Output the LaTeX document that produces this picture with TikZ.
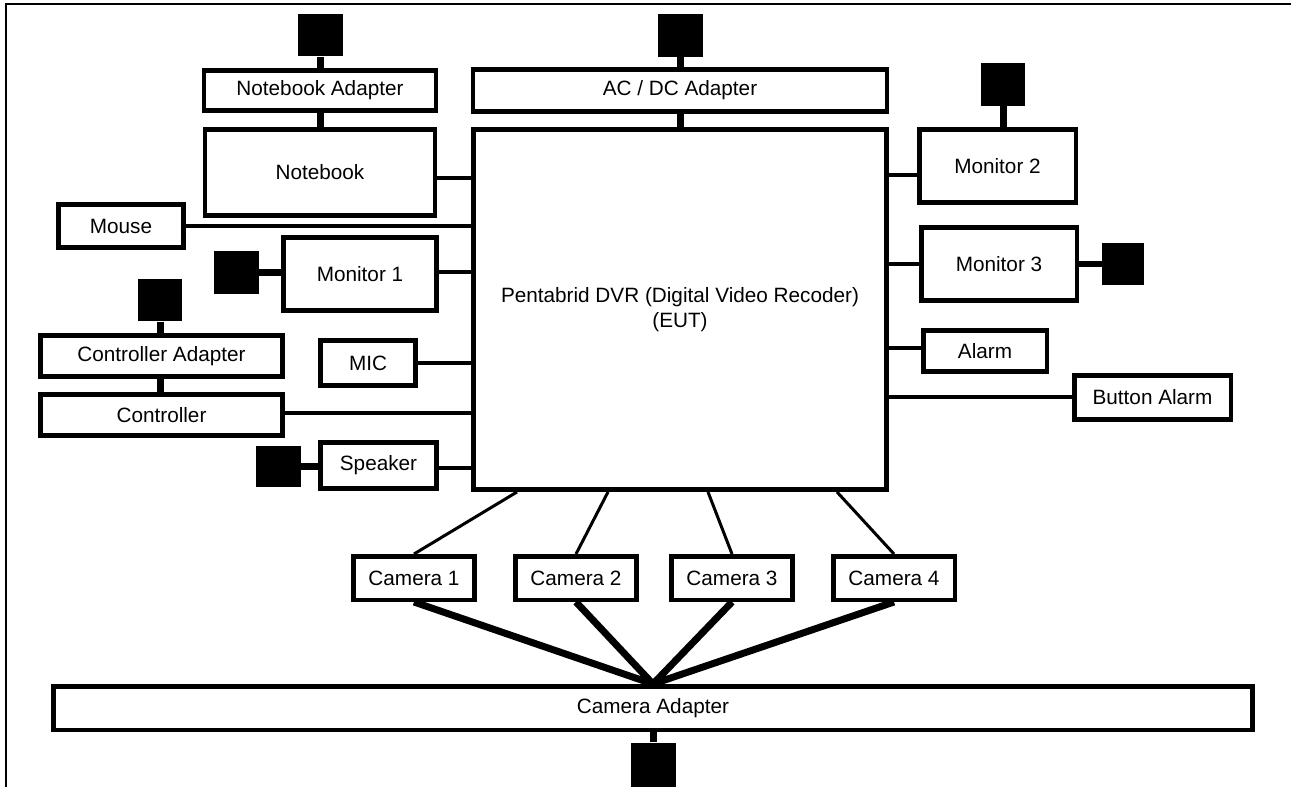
\documentclass[tikz,border=0pt]{standalone}
\usepackage{fontspec}
\setmainfont{Liberation Sans}
\begin{document}
\begin{tikzpicture}[x=0.02cm, y=-0.02cm,
  box/.style={draw, line width=0.09cm, fill=white, inner sep=0pt, align=center,
    font=\fontsize{11.8}{14.2}\selectfont},
  plug/.style={fill=black, inner sep=0pt, minimum width=0.9cm, minimum height=0.85cm},
  cam/.style={box, minimum width=2.43cm, minimum height=0.87cm},
  link/.style={line width=0.09cm},
  stem/.style={line width=0.14cm},
  camlink/.style={line width=0.06cm},
  feed/.style={line width=0.14cm}]
  \useasboundingbox (0,0) rectangle (1291,787);
  \draw[line width=0.04cm] (6,787) -- (6,4) -- (1291,4);

  % main unit and its power
  \node[box, minimum width=8.27cm, minimum height=7.21cm] (dvr) at (680,309.5)
    {Pentabrid DVR (Digital Video Recoder)\\(EUT)};
  \node[box, minimum width=8.29cm, minimum height=0.85cm] (acdc) at (680,90.5) {AC / DC Adapter};
  \node[plug] (acdcplug) at (680,35.5) {};
  \draw[stem] (acdcplug) -- (acdc);
  \draw[stem] (acdc) -- (dvr);

  % left side
  \node[plug] (nbplug) at (320,35) {};
  \node[box, minimum width=4.65cm, minimum height=0.81cm] (nbadapter) at (320,90.5) {Notebook Adapter};
  \node[box, minimum width=4.61cm, minimum height=1.73cm] (notebook) at (320,172.5) {Notebook};
  \draw[stem] (nbplug) -- (nbadapter);
  \draw[stem] (nbadapter) -- (notebook);
  \draw[link] (notebook.east |- 0,178) -- (dvr.west |- 0,178);

  \node[box, minimum width=2.51cm, minimum height=0.87cm] (mouse) at (121,226) {Mouse};
  \draw[link] (mouse.east) -- (mouse.east -| dvr.west);

  \node[box, minimum width=3.07cm, minimum height=1.47cm] (mon1) at (360,274) {Monitor 1};
  \node[plug] (m1plug) at (236.5,272.5) {};
  \draw[stem] (m1plug) -- (m1plug -| mon1.west);
  \draw[link] (mon1.east |- 0,272) -- (dvr.west |- 0,272);

  \node[plug] (ctrlplug) at (160,300) {};
  \node[box, minimum width=4.85cm, minimum height=0.83cm] (ctrladapter) at (161.5,356) {Controller Adapter};
  \node[box, minimum width=4.85cm, minimum height=0.83cm] (controller) at (161.5,415) {Controller};
  \draw[stem] (ctrlplug) -- (ctrlplug |- ctrladapter.north);
  \draw[stem] (ctrladapter.south -| ctrlplug) -- (controller.north -| ctrlplug);
  \draw[link] (controller.east |- 0,413) -- (dvr.west |- 0,413);

  \node[box, minimum width=1.91cm, minimum height=0.91cm] (mic) at (368,363) {MIC};
  \draw[link] (mic.east) -- (mic.east -| dvr.west);

  \node[box, minimum width=2.33cm, minimum height=0.93cm] (speaker) at (378.5,465.5) {Speaker};
  \node[plug, minimum height=0.82cm] (spkplug) at (278.5,466.5) {};
  \draw[stem] (spkplug) -- (spkplug -| speaker.west);
  \draw[link] (speaker.east |- 0,468) -- (dvr.west |- 0,468);

  % right side
  \node[box, minimum width=3.13cm, minimum height=1.47cm] (mon2) at (997.5,166) {Monitor 2};
  \node[plug, minimum width=0.88cm] (m2plug) at (1003,84.5) {};
  \draw[stem] (m2plug) -- (m2plug |- mon2.north);
  \draw[link] (dvr.east |- 0,175) -- (mon2.west |- 0,175);

  \node[box, minimum width=3.11cm, minimum height=1.47cm] (mon3) at (999,264) {Monitor 3};
  \node[plug, minimum width=0.84cm] (m3plug) at (1123,264) {};
  \draw[stem] (mon3.east) -- (m3plug);
  \draw[link] (dvr.east |- mon3.west) -- (mon3.west);

  \node[box, minimum width=2.47cm, minimum height=0.83cm] (alarm) at (985,351) {Alarm};
  \draw[link] (dvr.east |- 0,348) -- (alarm.west |- 0,348);

  \node[box, minimum width=3.13cm, minimum height=0.89cm] (btnalarm) at (1152.5,397.5) {Button Alarm};
  \draw[link] (dvr.east |- 0,397) -- (btnalarm.west |- 0,397);

  % cameras
  \node[cam] (cam1) at (414,578) {Camera 1};
  \node[cam] (cam2) at (576,578) {Camera 2};
  \node[cam] (cam3) at (732,578) {Camera 3};
  \node[cam] (cam4) at (894,578) {Camera 4};
  \draw[camlink] (dvr.south -| 517,0) -- (cam1.north);
  \draw[camlink] (dvr.south -| 608,0) -- (cam2.north);
  \draw[camlink] (dvr.south -| 708,0) -- (cam3.north);
  \draw[camlink] (dvr.south -| 837,0) -- (cam4.north);

  \node[box, minimum width=23.99cm, minimum height=0.87cm] (camadapter) at (653,708) {Camera Adapter};
  \foreach \c in {cam1,cam2,cam3,cam4}
    \draw[feed] (\c.south) -- (camadapter.north);
  \node[plug, minimum height=0.9cm] (camplug) at (653,765) {};
  \draw[stem] (camplug) -- (camplug |- camadapter.south);
\end{tikzpicture}
\end{document}
